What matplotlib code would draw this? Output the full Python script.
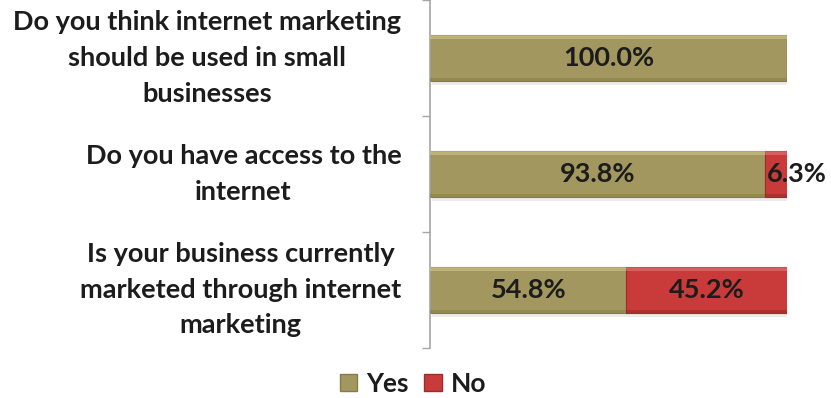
import matplotlib
matplotlib.use("Agg")
import matplotlib.pyplot as plt
from matplotlib.patches import Patch
import numpy as np

plt.rcParams['font.family'] = ['Lato', 'DejaVu Sans']

questions = [
    "Do you think internet marketing\nshould be used in small\nbusinesses",
    "Do you have access to the\ninternet",
    "Is your business currently\nmarketed through internet\nmarketing",
]
yes_pct = [100.0, 93.8, 54.8]
no_pct = [0.0, 6.3, 45.2]
series_names = ["Yes", "No"]

yes_color = "#A2985F"
yes_light = "#CFC58C"
no_color = "#C93B3B"
no_light = "#E07878"
text_color = "#1C1C1C"

fig = plt.figure(figsize=(8.31, 3.98), dpi=100)
ax = fig.add_axes([0.518, 0.126, 0.429, 0.874])

y = np.arange(len(questions))[::-1].astype(float)
h = 0.40

yes_arr = np.array(yes_pct)
no_arr = np.array(no_pct)

# soft drop shadow under each stacked bar
ax.barh(y - 0.03, yes_arr + no_arr, height=h, left=0.5, color="#000000",
        alpha=0.08, zorder=1, linewidth=0)

ax.barh(y, yes_arr, height=h, color=yes_color, edgecolor="#857C48",
        linewidth=0.8, zorder=2)
ax.barh(y, no_arr, height=h, left=yes_arr, color=no_color, edgecolor="#9E2A2A",
        linewidth=0.8, zorder=2)

# bevel highlight along the top edge of each segment
ax.barh(y + h / 2 - 0.02, yes_arr, height=0.04, color=yes_light,
        linewidth=0, alpha=0.6, zorder=3)
ax.barh(y + h / 2 - 0.02, no_arr, height=0.04, left=yes_arr, color=no_light,
        linewidth=0, alpha=0.6, zorder=3)
# darker lower rim
ax.barh(y - h / 2 + 0.015, yes_arr, height=0.03, color="#7E7543",
        linewidth=0, alpha=0.45, zorder=3)
ax.barh(y - h / 2 + 0.015, no_arr, height=0.03, left=yes_arr, color="#8F2424",
        linewidth=0, alpha=0.45, zorder=3)

label_kw = dict(fontsize=19.5, fontweight="bold", color=text_color, va="center",
                zorder=5, clip_on=False)
for yi, yv, nv in zip(y, yes_pct, no_pct):
    if yv > 0:
        ax.text(yv / 2, yi, f"{yv:.1f}%", ha="center", **label_kw)
    if nv > 0:
        if nv < 12:
            ax.text(yv + 0.6, yi, f"{nv:.1f}%", ha="left", **label_kw)
        else:
            ax.text(yv + nv / 2, yi, f"{nv:.1f}%", ha="center", **label_kw)

ax.set_xlim(0, 100)
ax.set_ylim(-0.5, len(questions) - 0.5)

ax.set_yticks(y)
ax.set_yticklabels(questions, fontsize=19.5, fontweight="bold", color=text_color,
                   ha="right", va="center", multialignment="center",
                   linespacing=1.58)
ax.tick_params(axis="y", which="major", length=0, pad=21)
ax.set_yticks(np.arange(len(questions) + 1) - 0.5, minor=True)
ax.tick_params(axis="y", which="minor", length=6, color="#A6A6A6", width=1)
ax.set_xticks([])

for side in ["top", "right", "bottom"]:
    ax.spines[side].set_visible(False)
ax.spines["left"].set_color("#A6A6A6")
ax.spines["left"].set_linewidth(1.2)

handles = [Patch(facecolor=yes_color, edgecolor="#857C48", label=series_names[0]),
           Patch(facecolor=no_color, edgecolor="#9E2A2A", label=series_names[1])]
leg = fig.legend(handles=handles, loc="center", bbox_to_anchor=(0.497, 0.036),
                 ncol=2, frameon=False, handlelength=0.65, handleheight=0.65,
                 handletextpad=0.35, columnspacing=0.6,
                 prop={"family": "Lato", "weight": "bold", "size": 19})
for t in leg.get_texts():
    t.set_color(text_color)

fig.savefig("out.png", dpi=100, facecolor="white")
